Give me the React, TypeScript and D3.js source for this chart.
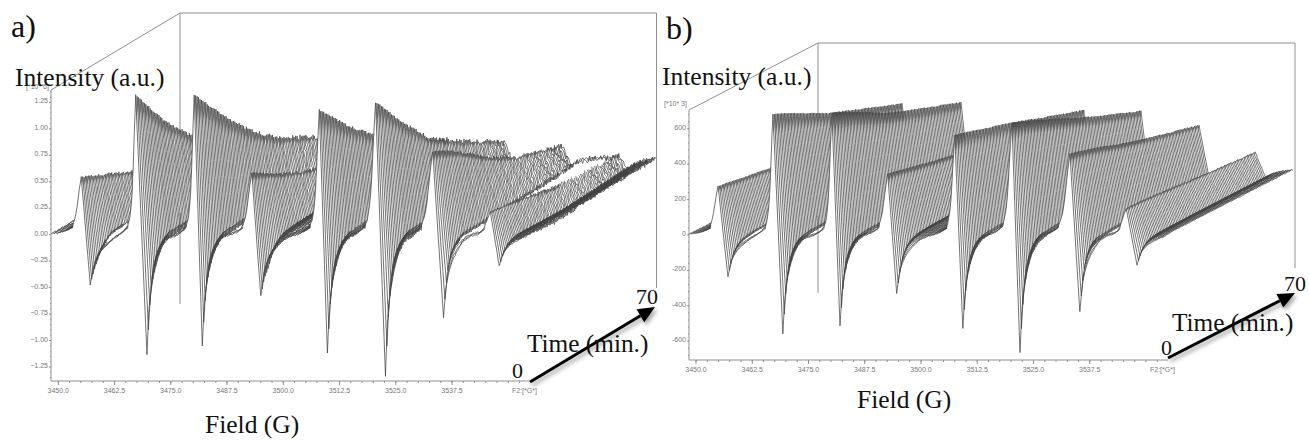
import React, { useMemo } from "react";
import * as d3 from "d3";

const keyTimes = [0, 15, 30, 45, 70];
const minTimes = [0, 2, 4, 6, 10, 15, 30, 70];
const traceCount = 90;
const timeMax = 70;

const fieldTicksMajor = [3450, 3462.5, 3475, 3487.5, 3500, 3512.5, 3525, 3537.5];
const fieldTicksMinor = d3.range(3450, 3552.6, 2.5);

const aTopFields = [3455.1, 3467.2, 3480.2, 3493, 3508, 3520.5, 3533.2, 3546];
const aMinFields = [3457.1, 3469.7, 3482, 3495, 3509.8, 3522.7, 3535.6, 3548];
const aTops = [
  [0.545, 0.42, 0.29, 0.2, 0.1],
  [1.33, 0.93, 0.63, 0.42, 0.18],
  [1.33, 0.98, 0.68, 0.45, 0.2],
  [0.59, 0.42, 0.29, 0.21, 0.1],
  [1.19, 0.88, 0.63, 0.42, 0.17],
  [1.26, 0.9, 0.6, 0.42, 0.15],
  [0.8, 0.63, 0.42, 0.26, 0.11],
  [0.23, 0.17, 0.11, 0.07, 0.02],
];
const aMins = [
  [-0.476, -0.36, -0.28, -0.2, -0.12, -0.1, -0.1, -0.07],
  [-1.12, -0.55, -0.38, -0.26, -0.16, -0.15, -0.14, -0.08],
  [-1.045, -0.52, -0.36, -0.25, -0.15, -0.14, -0.13, -0.08],
  [-0.58, -0.42, -0.36, -0.26, -0.16, -0.14, -0.12, -0.08],
  [-1.11, -0.55, -0.38, -0.26, -0.16, -0.15, -0.14, -0.08],
  [-1.34, -0.65, -0.42, -0.3, -0.18, -0.17, -0.15, -0.09],
  [-0.78, -0.38, -0.25, -0.19, -0.12, -0.12, -0.12, -0.08],
  [-0.285, -0.2, -0.16, -0.14, -0.14, -0.16, -0.2, -0.14],
];
const aYTicks = [-1.25, -1, -0.75, -0.5, -0.25, 0, 0.25, 0.5, 0.75, 1, 1.25];

const bTopFields = [3454.9, 3467.1, 3480.2, 3492.6, 3507.5, 3520.2, 3533.1, 3545.6];
const bMinFields = [3457.1, 3469.3, 3482, 3494.6, 3509.3, 3522, 3535.3, 3548];
const bTops = [
  [277, 250, 225, 200, 170],
  [689, 610, 530, 470, 370],
  [695, 615, 530, 470, 378],
  [350, 310, 275, 245, 190],
  [570, 520, 475, 420, 333],
  [638, 570, 500, 430, 328],
  [463, 415, 360, 315, 249],
  [158, 145, 130, 115, 96],
];
const bMins = [
  [-237, -150, -110, -85, -70, -60, -50, -40],
  [-554, -280, -190, -130, -90, -70, -60, -45],
  [-514, -260, -175, -120, -85, -70, -60, -45],
  [-328, -190, -130, -95, -70, -60, -50, -40],
  [-525, -265, -180, -125, -85, -70, -60, -45],
  [-667, -330, -220, -150, -100, -80, -65, -50],
  [-435, -220, -150, -110, -85, -75, -60, -45],
  [-164, -110, -85, -72, -65, -62, -58, -55],
];
const bYTicks = [-600, -400, -200, 0, 200, 400, 600];

// front-trace line shape: px from the top / from the minimum, and fraction of the amplitude
const riseOffsets = [-30, -20, -12, -8, -6, -4, -3, -2, -1, 0];
const riseLevels = [0, 0.01, 0.04, 0.08, 0.12, 0.25, 0.38, 0.6, 0.82, 1];
const fallOffsets = [0, 2, 4, 6, 8, 11, 15, 21, 34, 60];
const fallLevels = [1, 0.62, 0.47, 0.36, 0.28, 0.19, 0.09, 0.035, 0.02, 0];
const riseWidths = [1.7, 1, 1, 1.8, 1.2, 1.4, 2, 2];
const fallWidths = [1.6, 1, 1, 1.5, 1, 1, 1.3, 1.6];

// trace ripple
const ripple = [0.4, -0.7, 0.9, -0.2, -1, 0.6, 0.1, -0.5, 0.8, -0.9, 0.3, 1, -0.4, -0.1, 0.7, -0.8, 0.5, -0.3, 0.2, -0.6, 1, -1, 0.35, -0.15, 0.65, -0.75, 0.05, 0.85, -0.45, 0.55, -0.95, 0.25, -0.05, 0.75, -0.65, 0.45, -0.25];

type Panel = {
  x0: number; field0: number; fieldEnd: number; y0: number; pxPerUnit: number;
  axisLeft: number; axisTop: number; axisBottom: number; axisRight: number;
  backDx: number; backDy: number; backTop: number; backBottom: number; rightX: number; rightBottom: number;
  tops: number[][]; mins: number[][]; topFields: number[]; minFields: number[];
  yTicks: number[]; yFmt: (v: number) => string; exponent: string; expX: number; expY: number;
  noiseFront: number; noiseBack: number; hideAbove: number;
};

const panelA: Panel = {
  x0: 58.3, field0: 3448.4, fieldEnd: 3554, y0: 234.7, pxPerUnit: 105.8,
  axisLeft: 51, axisTop: 90, axisBottom: 381, axisRight: 530,
  backDx: 129, backDy: 77, backTop: 13, backBottom: 304, rightX: 656.5, rightBottom: 288,
  tops: aTops, mins: aMins, topFields: aTopFields, minFields: aMinFields,
  yTicks: aYTicks, yFmt: (v) => d3.format(".2f")(v), exponent: "[*10* 6]", expX: 26, expY: 89,
  noiseFront: 0.006, noiseBack: 0.026, hideAbove: 0.1,
};
const panelB: Panel = {
  x0: 696, field0: 3448.4, fieldEnd: 3554, y0: 235, pxPerUnit: 0.177,
  axisLeft: 689, axisTop: 110, axisBottom: 360, axisRight: 1168,
  backDx: 129, backDy: 66, backTop: 43, backBottom: 293, rightX: 1295, rightBottom: 268,
  tops: bTops, mins: bMins, topFields: bTopFields, minFields: bMinFields,
  yTicks: bYTicks, yFmt: (v) => String(v), exponent: "[*10* 3]", expX: 664, expY: 106,
  noiseFront: 1.5, noiseBack: 3, hideAbove: 60,
};

const pxPerField = 4.5;

function tracePaths(p: Panel): { line: string; fill: string }[] {
  const xScale = d3.scaleLinear().domain([3450, 3537.5]).range([p.x0, p.x0 + 87.5 * pxPerField]);
  const yScale = d3.scaleLinear().domain([0, 1]).range([p.y0, p.y0 - p.pxPerUnit]);
  const dxScale = d3.scaleLinear().domain([0, timeMax]).range([0, p.backDx]);
  const dyScale = d3.scaleLinear().domain([0, timeMax]).range([0, p.backDy]);
  const rise = d3.scaleLinear<number>().domain(riseOffsets).range(riseLevels).clamp(true);
  const fall = d3.scaleLinear<number>().domain(fallOffsets).range(fallLevels).clamp(true);
  const topAt = p.tops.map((r) => d3.scaleLinear<number>().domain(keyTimes).range(r));
  const minAt = p.mins.map((r) => d3.scaleLinear<number>().domain(minTimes).range(r));
  const grid = Array.from(
    new Set([...d3.range(p.field0, p.fieldEnd, 0.25), p.fieldEnd, ...p.topFields, ...p.minFields])
  ).sort(d3.ascending);
  const n = p.topFields.length;
  const lineGen = d3.line<[number, number, boolean]>().x((d) => d[0]).y((d) => d[1]).defined((d) => d[2]);
  const fillGen = d3.line<[number, number]>().x((d) => d[0]).y((d) => d[1]);
  const out: { line: string; fill: string }[] = [];
  for (let i = traceCount - 1; i >= 0; i--) {
    const t = (i / (traceCount - 1)) * timeMax;
    const dx = dxScale(t);
    const dy = dyScale(t);
    const tops = topAt.map((s) => s(t));
    const mins = minAt.map((s) => s(t));
    const amp = p.noiseFront + (p.noiseBack - p.noiseFront) * (t / timeMax);
    const base = grid.map((f) => {
      let v = 0;
      for (let k = 0; k < n; k++) {
        const a = p.topFields[k];
        const b = p.minFields[k];
        if (f <= a) v += tops[k] * rise(((f - a) * pxPerField) / riseWidths[k]);
        else if (f < b) v += tops[k] + ((mins[k] - tops[k]) * (f - a)) / (b - a);
        else v += mins[k] * fall(((f - b) * pxPerField) / fallWidths[k]);
      }
      return v;
    });
    const values = base.map((v, j) =>
      j === 0 || j === grid.length - 1 ? v : v + amp * ripple[(i * 11 + j * 5) % ripple.length]
    );
    const keepAll = i < 3 || i >= traceCount - 2;
    const pts: [number, number, boolean][] = values.map((v, j) => {
      const f = grid[j];
      const pxStep = (a: number, b: number) =>
        (Math.abs(base[a] - base[b]) * p.pxPerUnit) / (Math.abs(grid[a] - grid[b]) * pxPerField);
      const steep = Math.max(j > 0 ? pxStep(j, j - 1) : 0, j < grid.length - 1 ? pxStep(j, j + 1) : 0) > 1;
      const open =
        f <= p.topFields[0] ||
        f >= p.minFields[n - 1] ||
        (f >= p.minFields[3] && f <= p.topFields[4]);
      return [xScale(f) + dx, yScale(v) - dy, keepAll || steep || open];
    });
    const upper: [number, number][] = values.map((v, j) => [xScale(grid[j]) + dx, yScale(v > p.hideAbove ? v : 0) - dy]);
    out.push({ line: lineGen(pts) as string, fill: fillGen(upper) as string });
  }
  return out;
}

const GRAY = "#909090";
const LABEL = "#777";

function Chart({ p }: { p: Panel }) {
  const paths = useMemo(() => tracePaths(p), [p]);
  const xScale = d3.scaleLinear().domain([3450, 3537.5]).range([p.x0, p.x0 + 87.5 * pxPerField]);
  const yScale = d3.scaleLinear().domain([0, 1]).range([p.y0, p.y0 - p.pxPerUnit]);
  const step = p.yTicks[1] - p.yTicks[0];
  const yMinor = d3.range(p.yTicks[0] - step, p.yTicks[p.yTicks.length - 1] + step, step / 5)
    .filter((v) => yScale(v) < p.axisBottom - 1 && yScale(v) > p.axisTop + 1);
  const backX = p.axisLeft + p.backDx;
  return (
    <g>
      <g fill="none" stroke={GRAY} strokeWidth={1}>
        <path d={`M${p.axisLeft},${p.axisTop}L${backX},${p.backTop}L${p.rightX},${p.backTop}L${p.rightX},${p.rightBottom}`} />
        <path d={`M${backX},${p.backTop}L${backX},${p.backBottom}`} />
      </g>
      <g filter="url(#soft)">
        {paths.map((d, i) => (
          <g key={i}>
            <path d={d.fill} fill="#fff" stroke="none" />
            <path d={d.line} fill="none" stroke="#444" strokeWidth={0.75} />
          </g>
        ))}
      </g>
      <g stroke={GRAY} strokeWidth={1} fill="none">
        <path d={`M${p.axisLeft},${p.axisTop}L${p.axisLeft},${p.axisBottom}L${p.axisRight},${p.axisBottom}`} />
        {fieldTicksMinor.filter((f) => xScale(f) < p.axisRight - 1).map((f) => (
          <path key={f} d={`M${xScale(f)},${p.axisBottom}v2`} />
        ))}
        {fieldTicksMajor.map((f) => (
          <path key={f} d={`M${xScale(f)},${p.axisBottom}v4`} />
        ))}
        {yMinor.map((v, i) => (
          <path key={i} d={`M${p.axisLeft},${yScale(v)}h-1`} />
        ))}
        {p.yTicks.map((v) => (
          <path key={v} d={`M${p.axisLeft},${yScale(v)}h-2`} />
        ))}
      </g>
      <g fontFamily="'Liberation Sans', sans-serif" fontSize={7} fill={LABEL}>
        {fieldTicksMajor.map((f) => (
          <text key={f} x={xScale(f)} y={p.axisBottom + 12} textAnchor="middle">{d3.format(".1f")(f)}</text>
        ))}
        <text x={p.axisRight - 18} y={p.axisBottom + 12}>F2:[*G*]</text>
        {p.yTicks.map((v) => (
          <text key={v} x={p.axisLeft - 3} y={yScale(v) + 1} textAnchor="end">{p.yFmt(v)}</text>
        ))}
        <text x={p.expX} y={p.expY}>{p.exponent}</text>
      </g>
    </g>
  );
}

type Arrow = { x1: number; y1: number; x2: number; y2: number };
const arrowA: Arrow = { x1: 530, y1: 382, x2: 655, y2: 307 };
const arrowB: Arrow = { x1: 1168, y1: 358, x2: 1295, y2: 293 };

function TimeArrow({ a }: { a: Arrow }) {
  const ang = Math.atan2(a.y2 - a.y1, a.x2 - a.x1);
  const len = 17;
  const hw = 7.5;
  const bx = a.x2 - len * Math.cos(ang);
  const by = a.y2 - len * Math.sin(ang);
  const head = `M${a.x2},${a.y2}L${bx - hw * Math.sin(ang)},${by + hw * Math.cos(ang)}L${bx + hw * Math.sin(ang)},${by - hw * Math.cos(ang)}Z`;
  return (
    <g>
      <g filter="url(#shadow)" opacity={0.55} transform="translate(2,3)">
        <line x1={a.x1} y1={a.y1} x2={bx} y2={by} stroke="#555" strokeWidth={3} />
        <path d={head} fill="#555" />
      </g>
      <line x1={a.x1} y1={a.y1} x2={bx} y2={by} stroke="#000" strokeWidth={3} />
      <path d={head} fill="#000" />
    </g>
  );
}

const texts = [
  { s: "a)", x: 11, y: 37, size: 32 },
  { s: "b)", x: 666, y: 39, size: 32 },
  { s: "Intensity (a.u.)", x: 15, y: 86, size: 25.5 },
  { s: "Intensity (a.u.)", x: 662, y: 85, size: 25.5 },
  { s: "Field (G)", x: 205, y: 433, size: 25.5 },
  { s: "Field (G)", x: 857, y: 408, size: 25.5 },
  { s: "Time (min.)", x: 527, y: 352, size: 25.3 },
  { s: "Time (min.)", x: 1172, y: 331, size: 25.3 },
  { s: "0", x: 512, y: 378, size: 22 },
  { s: "70", x: 636, y: 304, size: 22 },
  { s: "0", x: 1161, y: 355, size: 22 },
  { s: "70", x: 1284, y: 291, size: 22 },
];

export default function App() {
  return (
    <svg width={1309} height={441} viewBox="0 0 1309 441" style={{ position: "fixed", left: 0, top: 0, background: "#fff" }}>
      <defs>
        <filter id="soft" x="-5%" y="-5%" width="110%" height="110%">
          <feGaussianBlur stdDeviation="0.5" />
        </filter>
        <filter id="shadow" x="-20%" y="-20%" width="140%" height="140%">
          <feGaussianBlur stdDeviation="2" />
        </filter>
      </defs>
      <Chart p={panelA} />
      <Chart p={panelB} />
      <TimeArrow a={arrowA} />
      <TimeArrow a={arrowB} />
      <g fontFamily="'Liberation Serif', serif" fill="#111">
        {texts.map((t, i) => (
          <text key={i} x={t.x} y={t.y} fontSize={t.size}>{t.s}</text>
        ))}
      </g>
    </svg>
  );
}
